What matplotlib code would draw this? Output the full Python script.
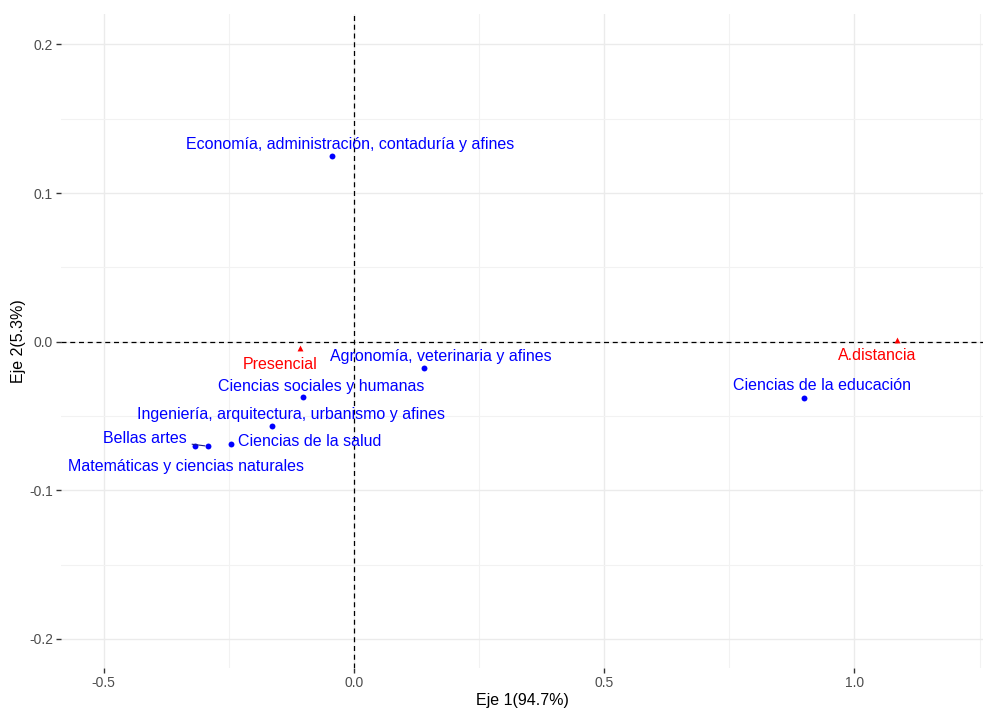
import matplotlib
matplotlib.use('Agg')
import matplotlib.pyplot as plt
from matplotlib.ticker import MultipleLocator, FormatStrFormatter

plt.rcParams['font.family'] = ['Liberation Sans', 'DejaVu Sans']

# Column points (fields of study)
row_names = ['Economía, administración, contaduría y afines',
             'Agronomía, veterinaria y afines',
             'Ciencias sociales y humanas',
             'Ingeniería, arquitectura, urbanismo y afines',
             'Ciencias de la salud',
             'Bellas artes',
             'Matemáticas y ciencias naturales',
             'Ciencias de la educación']
row_x = [-0.0445, 0.1397, -0.1018, -0.1637, -0.2455, -0.292, -0.317, 0.900]
row_y = [0.1252, -0.0179, -0.0374, -0.0569, -0.0687, -0.0703, -0.0703, -0.0376]

# Modality points
col_names = ['Presencial', 'A.distancia']
col_x = [-0.108, 1.0846]
col_y = [-0.004, 0.001]

# label offsets in pixels (repel-like placement)
row_off = [(19, 11), (17, 12), (18, 11), (19.5, 12), (79, 2.5), (-63, 8), (-9, -20), (17.5, 12)]
col_off = [(-20, -17), (-20, -15)]

BLUE = '#0000FF'
RED = '#FF0000'

fig = plt.figure(figsize=(9.84, 7.11), dpi=100)
ax = fig.add_axes([0.062, 0.0605, 0.937, 0.9195])

ax.set_xlim(-0.585, 1.257)
ax.set_ylim(-0.2195, 0.2203)
ax.xaxis.set_major_locator(MultipleLocator(0.5))
ax.xaxis.set_minor_locator(MultipleLocator(0.25))
ax.yaxis.set_major_locator(MultipleLocator(0.1))
ax.yaxis.set_minor_locator(MultipleLocator(0.05))
ax.xaxis.set_major_formatter(FormatStrFormatter('%.1f'))
ax.yaxis.set_major_formatter(FormatStrFormatter('%.1f'))

ax.grid(True, which='major', color='#EBEBEB', linewidth=1.0)
ax.grid(True, which='minor', color='#F2F2F2', linewidth=0.8)
ax.set_axisbelow(True)
for s in ax.spines.values():
    s.set_visible(False)
ax.tick_params(which='major', length=3.3, width=1, color='#333333',
               labelsize=10, labelcolor='#4D4D4D', pad=2.5)
ax.tick_params(which='minor', length=0)

ax.axhline(0, color='black', linestyle='--', linewidth=0.9, dashes=(4, 3))
ax.axvline(0, color='black', linestyle='--', linewidth=0.9, dashes=(4, 3))

ax.scatter(row_x, row_y, s=18, color=BLUE, zorder=3, linewidths=0)
ax.scatter(col_x, col_y, s=18, color=RED, marker='^', zorder=3, linewidths=0)

px = 72 / 100  # pixels -> points
for name, x, y, (dx, dy) in zip(row_names, row_x, row_y, row_off):
    arrow = None
    if name == 'Bellas artes':
        arrow = dict(arrowstyle='-', color='#1a1a8c', lw=0.8, shrinkA=2, shrinkB=2)
    ax.annotate(name, (x, y), xytext=(dx * px, dy * px), textcoords='offset points',
                ha='center', va='center', color=BLUE, fontsize=11.5,
                arrowprops=arrow)
for name, x, y, (dx, dy) in zip(col_names, col_x, col_y, col_off):
    ax.annotate(name, (x, y), xytext=(dx * px, dy * px), textcoords='offset points',
                ha='center', va='center', color=RED, fontsize=11.5)

ax.set_xlabel('Eje 1(94.7%)', fontsize=11.5, color='black', labelpad=2)
ax.set_ylabel('Eje 2(5.3%)', fontsize=11.5, color='black', labelpad=2)

fig.savefig('out.png', dpi=100)
